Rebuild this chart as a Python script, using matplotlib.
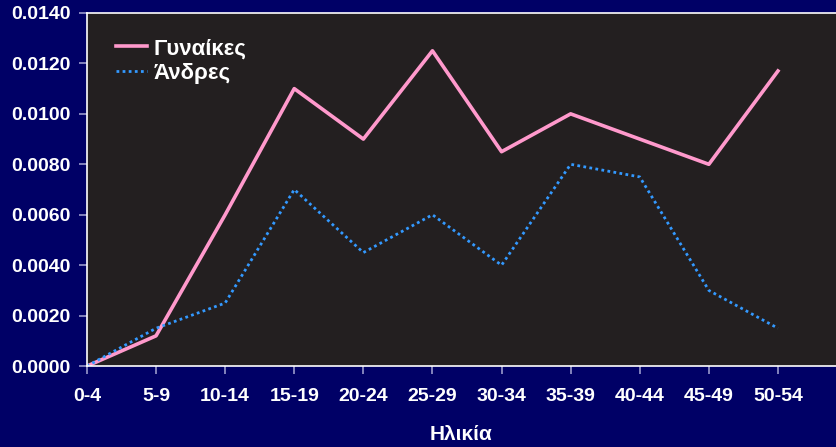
import matplotlib.pyplot as plt

age_groups = ['0-4', '5-9', '10-14', '15-19', '20-24', '25-29', '30-34',
              '35-39', '40-44', '45-49', '50-54']
women = [0.0, 0.0012, 0.0060, 0.0110, 0.0090, 0.0125, 0.0085,
         0.0100, 0.0090, 0.0080, 0.0117]
men = [0.0, 0.0015, 0.0025, 0.0070, 0.0045, 0.0060, 0.0040,
       0.0080, 0.0075, 0.0030, 0.0015]
y_ticks = [0.0, 0.002, 0.004, 0.006, 0.008, 0.010, 0.012, 0.014]

plt.rcParams['font.family'] = ['Liberation Sans', 'DejaVu Sans']

fig = plt.figure(figsize=(8.36, 4.47), dpi=100)
fig.patch.set_facecolor('#000066')
ax = fig.add_axes([0.104, 0.181, 0.896, 0.790])
ax.set_facecolor('#231f20')

x = list(range(len(age_groups)))
ax.plot(x, women, color='#ff99cc', lw=2.6, label='Γυναίκες')
ax.plot(x, men, color='#3399ff', lw=2.0, ls=(0, (1, 1.2)), label='Άνδρες')

ax.set_xlim(0, 10.84)
ax.set_ylim(0, 0.014)
ax.set_xticks(x)
ax.set_xticklabels(age_groups)
ax.set_yticks(y_ticks)
ax.set_yticklabels([f'{v:.4f}' for v in y_ticks])

for side in ['left', 'bottom', 'top']:
    ax.spines[side].set_color('white')
    ax.spines[side].set_linewidth(1.2)
ax.spines['right'].set_visible(False)
ax.tick_params(axis='both', colors='#9999cc', length=6, width=1.2, direction='out')
for lab in ax.get_xticklabels() + ax.get_yticklabels():
    lab.set_color('white')
    lab.set_fontweight('bold')
    lab.set_fontsize(14)
ax.tick_params(axis='x', pad=10)
ax.tick_params(axis='y', pad=6)

ax.set_xlabel('Ηλικία', color='white', fontweight='bold', fontsize=15, labelpad=14)

leg = ax.legend(loc='upper left', frameon=False,
                prop={'size': 16, 'weight': 'bold'},
                handlelength=1.4, handletextpad=0.3, labelspacing=0.15,
                bbox_to_anchor=(0.012, 0.985))
for t in leg.get_texts():
    t.set_color('white')

fig.savefig('out.png', dpi=100, facecolor=fig.get_facecolor())
